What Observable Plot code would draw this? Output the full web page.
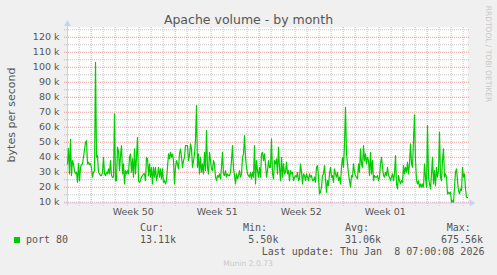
<!DOCTYPE html>
<html><head><meta charset="utf-8">
<script src="https://cdn.jsdelivr.net/npm/d3@7"></script>
<script src="https://cdn.jsdelivr.net/npm/@observablehq/plot@0.6"></script>
<style>
html,body{margin:0;padding:0;background:#f0f0f0;}
#wrap{position:relative;width:497px;height:275px;overflow:hidden;background:#f0f0f0;font-family:"DejaVu Sans",sans-serif;color:#555;}
#wrap svg{position:absolute;left:0;top:0;}
.t{position:absolute;white-space:pre;line-height:1;transform:translateY(-50%);}
.mono{font-family:"DejaVu Sans Mono",monospace;font-size:10px;color:#555;}
</style></head><body><div id="wrap"></div>
<script>
// ---- data (bytes per second, in thousands; one sample every 2 hours) ----
const startTime = "2025-12-06T00:36:00Z";
const stepHours = 2;
const valuesK = [
35.6,46,28.9,52,27.8,37.8,35.6,31,29,30,
23.3,36,24.4,33,35,35.6,40,45,50,51,
35.6,36.7,35.1,35.6,33,26.7,30,31,103.3,40,
41,30,28.9,27.8,27.8,30,40,28.9,27.8,30,
28.9,32.2,28.9,37.8,27.8,26.7,26.7,68.9,24.4,24.4,
46.7,44.4,31.1,41.1,47.8,28.9,35.6,22.2,31.1,28.9,
31.1,28.9,40,42.2,30,38.9,26.7,45.6,28.9,40,
53.3,24.4,23.3,24.4,27,27.8,28.9,28.9,24.4,40,
38.9,27.8,35.6,26.7,33.3,22.2,33.3,26.7,33.3,24.4,
27.8,33.3,26.7,32.2,25.6,32.2,23.3,24.4,22.2,24.4,
33.3,42.2,38.9,43.3,40,42.2,37.8,22.2,33.3,37.8,
35.6,32.2,42.2,45.6,40,33.3,37.8,40,47.8,47.8,
47.8,37.8,41.1,48.9,45.6,33.3,37.8,42.2,52,74.4,
33.3,42.2,28.9,40,30,35.6,28.9,43.3,31.1,57.8,
33.3,28.9,43.3,37.8,32.2,31.1,37.8,35.6,26.7,24.4,
27.8,26.7,28.9,25.6,33.3,43.3,28.9,27.8,31.1,26.7,
28.9,27.8,27.8,30,37.8,47.8,32.2,27.8,22.2,28.9,
25.6,27.8,31.1,26.7,28.9,40,42.2,54.4,40,33.3,
28.9,27.8,26.7,30,25.6,30,26.7,47.8,22.2,37.8,
31.1,26.7,33.3,26.7,42.2,43.3,37.8,42.2,35.6,26.7,
31.1,37.8,33.3,33.3,52.2,28.9,25.6,37.8,35.6,38.9,
28.9,46.7,33.3,24.4,40,26.7,35.6,28.9,30,36.7,
28.9,31.1,24.4,31.1,28.9,30,24.4,26.7,27.8,26.7,
30,24.4,25.6,35.6,30,22.2,28.9,27.8,24.4,28.9,
26.7,24.4,28.9,26.7,27.8,24.4,24.4,26.7,23.3,33.3,
34.4,26.7,15.6,16.7,20,27.8,28.9,34.4,25.6,16.7,
24.4,21.1,28.9,33.3,26.7,27.8,23.3,32.2,28.9,26.7,
30,24.4,26.7,22.2,33.3,40,33.3,48.9,73.3,42.2,
35.6,28.9,24.4,20,27.8,26.7,35.6,30,27.8,26.7,
25.6,35.6,30,45.6,35.6,33.3,47.8,37.8,42.2,35.6,
40,37.8,27.8,43.3,28.9,37.8,24.4,27.8,26.7,26.7,
27.8,24.4,26.7,35.6,40,33.3,27.8,26.7,30,27.8,
33.3,27.8,26.7,24.4,26.7,29,24.4,28.9,41.1,22.2,
18.9,27.8,24.4,22.2,24.4,23.3,34.4,28.9,33.3,30,
36.7,28.9,35.6,48.9,35.6,33.3,51.1,68.2,37.8,24.4,
22.2,24.4,20,22.2,20,22.2,20,35.6,26.7,20,
61.1,26.7,22.2,18.9,28.9,40,22.2,31.1,21.1,33.3,
26.7,31.1,56.7,26.7,24.4,37.8,45.6,26.7,28.9,26.7,
15.6,16.7,15.6,16.7,10,11.1,10,20,30,32.2,
24.4,17.8,15.6,18.9,17.8,33.3,26.7,28.9,18.9,13.3,
13.1
];
const yMin = 9.5, yMax = 126.5;
const yTicks = [10,20,30,40,50,60,70,80,90,100,110,120];
const weekTickDates = ["2025-12-11T12:00:00Z","2025-12-18T12:00:00Z","2025-12-25T12:00:00Z","2026-01-01T12:00:00Z"];
const weekLabels = ["Week 50","Week 51","Week 52","Week 01"];
const titleText = "Apache volume - by month";
const yLabelText = "bytes per second";
const seriesName = "port 80";
const statHeads = ["Cur:","Min:","Avg:","Max:"];
const statValues = ["13.11k","5.50k","31.06k","675.56k"];
const lastUpdate = "Last update: Thu Jan  8 07:00:08 2026";
const watermark = "RRDTOOL / TOBI OETIKER";
const footer = "Munin 2.0.73";

// ---- build ----
const t0 = new Date(startTime);
const stepMs = stepHours * 3600e3;
const data = valuesK.map((v, i) => ({t: new Date(+t0 + i * stepMs), v}));
const tEnd = data[data.length - 1].t;
const days = d3.utcDay.range(t0, tEnd);
const mondays = days.filter(d => d.getUTCDay() === 1);
const otherDays = days.filter(d => d.getUTCDay() !== 1);
const minorY = d3.range(10, yMax, 5).filter(v => v % 10 !== 0);
const majorY = d3.range(10, yMax, 10);
const weekTicks = weekTickDates.map(s => new Date(s));
const labelByTime = new Map(weekTicks.map((d, i) => [+d, weekLabels[i]]));

const gridGray = "rgba(128,128,128,0.45)";
const gridRed = "rgba(230,60,60,0.5)";
const axisColor = "#c8d0f4";

const chart = Plot.plot({
  width: 497, height: 275,
  marginLeft: 67, marginRight: 30, marginTop: 27, marginBottom: 72.5,
  style: {background: "transparent", fontFamily: "DejaVu Sans", fontSize: "9.5px", color: "#555", overflow: "visible"},
  x: {type: "utc", domain: [t0, tEnd]},
  y: {domain: [yMin, yMax]},
  marks: [
    Plot.frame({fill: "white", stroke: "none"}),
    Plot.ruleY(minorY, {stroke: gridGray, strokeDasharray: "1,1", insetLeft: -3, insetRight: -2}),
    Plot.ruleX(otherDays, {stroke: gridGray, strokeDasharray: "1,1", insetBottom: -3}),
    Plot.ruleY(majorY, {stroke: gridRed, strokeDasharray: "1,1", insetLeft: -3, insetRight: -2}),
    Plot.ruleX(mondays, {stroke: gridRed, strokeDasharray: "1,1", insetBottom: -3}),
    Plot.ruleY([yMin], {stroke: axisColor, insetLeft: -3, insetRight: -3}),
    Plot.ruleX([t0], {stroke: axisColor, insetTop: -3, insetBottom: -3}),
    Plot.dot([yMax], {x: () => t0, y: d => d, symbol: "triangle", r: 2.6, fill: axisColor, stroke: "none", dy: -3.5}),
    Plot.dot([yMin], {x: () => tEnd, y: d => d, symbol: "triangle", r: 2.6, fill: axisColor, stroke: "none", dx: 4, rotate: 90}),
    Plot.line(data, {x: "t", y: "v", stroke: "#00cc00", strokeWidth: 1.2}),
    Plot.axisY({ticks: yTicks, tickSize: 0, tickPadding: 8, tickFormat: d => `${d} k`, label: null}),
    Plot.axisX({ticks: weekTicks, tickSize: 0, tickPadding: 5, tickFormat: d => labelByTime.get(+d), label: null})
  ]
});
const wrap = document.getElementById("wrap");
wrap.appendChild(chart);

function addText(txt, cls, left, top, extra) {
  const el = document.createElement("div");
  el.className = "t " + (cls || "");
  el.textContent = txt;
  el.style.left = left + "px";
  el.style.top = top + "px";
  if (extra) Object.assign(el.style, extra);
  wrap.appendChild(el);
  return el;
}
// title
addText(titleText, "", 248.5, 19.5, {fontSize: "12.5px", transform: "translate(-50%,-50%)", color: "#555"});
// y label
addText(yLabelText, "", 10.5, 115, {fontSize: "11px", transform: "translate(-50%,-50%) rotate(-90deg)"});
// watermark
addText(watermark, "", 488, 53.5, {fontSize: "7.5px", color: "#c8c8c8", transform: "translate(-50%,-50%) rotate(90deg)"});
// legend
const sw = document.createElement("div");
Object.assign(sw.style, {position: "absolute", left: "14px", top: "236.5px", width: "6px", height: "6px", background: "#00cc00"});
wrap.appendChild(sw);
addText(seriesName, "mono", 26, 239.5);
const headX = [140, 243, 345, 446.7];
const valX = [140, 248.3, 345, 441];
statHeads.forEach((h, i) => addText(h, "mono", headX[i], 227.7));
statValues.forEach((v, i) => addText(v, "mono", valX[i], 239.5));
addText(lastUpdate, "mono", 261.7, 251.7);
addText(footer, "", 248, 264.3, {fontSize: "7.6px", color: "#c8c8c8", transform: "translate(-50%,-50%)"});
</script></body></html>
